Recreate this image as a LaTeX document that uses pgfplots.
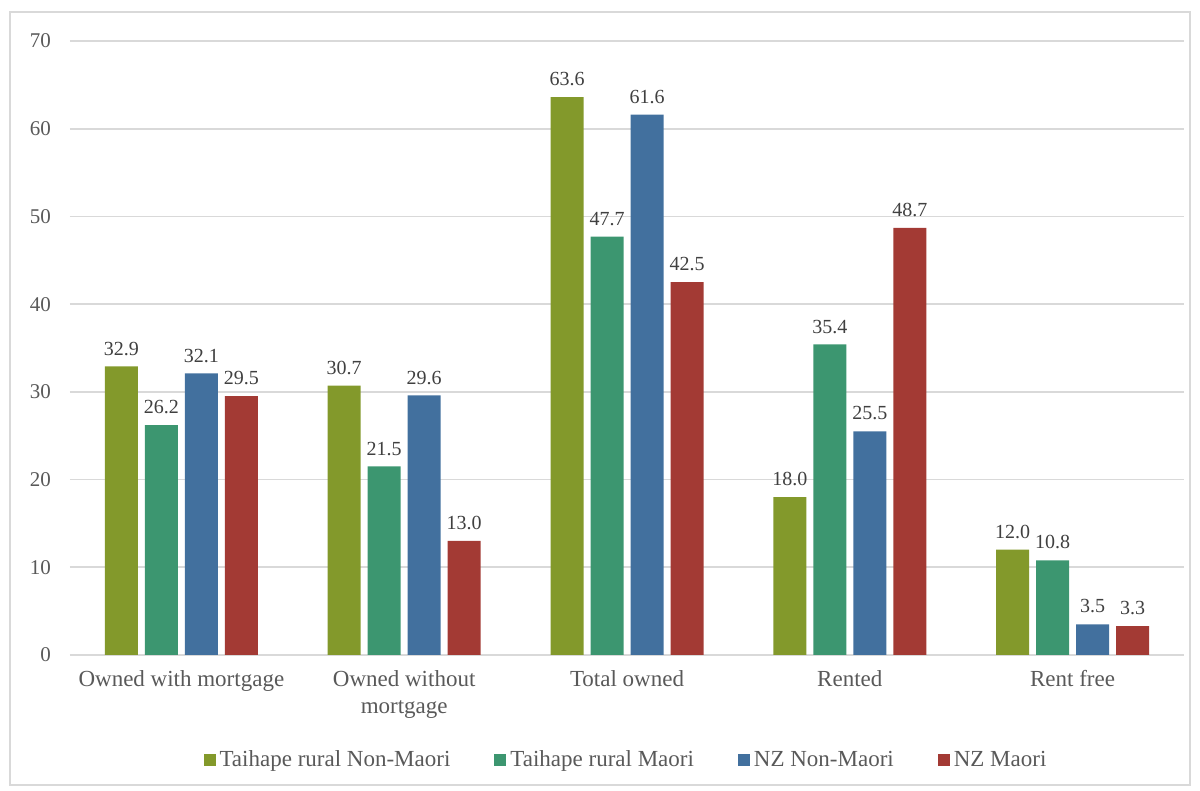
\documentclass[border=0pt]{standalone}
\usepackage{pgfplots}
\pgfplotsset{compat=1.18}
\usepackage{fontspec}
\setmainfont{Liberation Serif}
\definecolor{cOlive}{RGB}{131,153,43}
\definecolor{cTeal}{RGB}{60,150,112}
\definecolor{cBlue}{RGB}{66,112,158}
\definecolor{cRed}{RGB}{163,58,52}
\definecolor{cGrid}{RGB}{217,217,217}
\definecolor{cText}{RGB}{89,89,89}
\definecolor{cLab}{RGB}{64,64,64}
\begin{document}
\begin{tikzpicture}
\useasboundingbox (-35pt,-68pt) rectangle (565pt,327.5pt);
\draw[cGrid, line width=0.8pt] (-30pt,-65pt) rectangle (560pt,321.5pt);
\begin{axis}[
  scale only axis,
  width=557pt, height=307pt,
  ybar=3.5pt, bar width=16.5pt,
  xmin=-0.5, xmax=4.5,
  ymin=0, ymax=70,
  ytick={0,10,...,70},
  xtick={0,1,2,3,4},
  xticklabels={Owned with mortgage,{Owned without\\mortgage},Total owned,Rented,Rent free},
  xticklabel style={align=center, font=\fontsize{11.5}{13.5}\selectfont, text=cText, yshift=-4pt},
  yticklabel style={font=\fontsize{10.5}{12}\selectfont, text=cText, xshift=-6pt},
  /pgf/number format/assume math mode=true,
  major tick length=0pt,
  ymajorgrids, grid style={cGrid, line width=0.8pt},
  axis x line*=bottom,
  axis y line*=left,
  x axis line style={draw=cGrid, line width=0.8pt},
  y axis line style={draw=none},
  nodes near coords,
  nodes near coords style={font=\fontsize{10}{12}\selectfont, text=cLab, yshift=2pt,
    /pgf/number format/fixed, /pgf/number format/fixed zerofill, /pgf/number format/precision=1,
    /pgf/number format/assume math mode=true},
  legend columns=4,
  legend style={at={(rel axis cs:0.5,0)}, anchor=center, yshift=-52.5pt, draw=none, fill=none,
    font=\fontsize{11.5}{13.5}\selectfont, text=cText,
    /tikz/every even column/.append style={column sep=20pt}},
  legend image code/.code={\fill[#1] (0pt,-3pt) rectangle (6pt,3pt);},
]
\addplot[fill=cOlive, draw=none] coordinates {(0,32.9) (1,30.7) (2,63.6) (3,18.0) (4,12.0)};
\addplot[fill=cTeal, draw=none] coordinates {(0,26.2) (1,21.5) (2,47.7) (3,35.4) (4,10.8)};
\addplot[fill=cBlue, draw=none] coordinates {(0,32.1) (1,29.6) (2,61.6) (3,25.5) (4,3.5)};
\addplot[fill=cRed, draw=none] coordinates {(0,29.5) (1,13.0) (2,42.5) (3,48.7) (4,3.3)};
\legend{Taihape rural Non-Maori,Taihape rural Maori,NZ Non-Maori,NZ Maori}
\end{axis}
\end{tikzpicture}
\end{document}
